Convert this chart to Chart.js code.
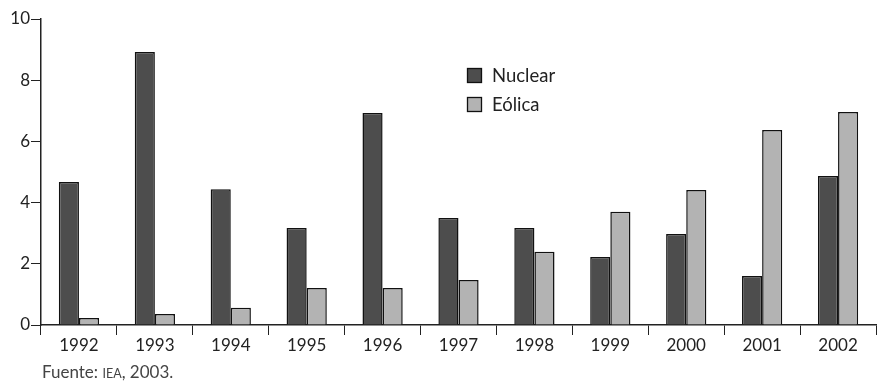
<!DOCTYPE html>
<html>
<head>
<meta charset="utf-8">
<script src="https://cdn.jsdelivr.net/npm/chart.js@4.4.0/dist/chart.umd.min.js"></script>
<style>
  html, body { margin: 0; padding: 0; background: #fff; }
  #wrap { position: relative; width: 878px; height: 382px; }
  #source { position: absolute; left: 42px; top: 361px; font: 17px Lato, sans-serif; color: #444; }
  #source .sc { font-size: 12.5px; }
</style>
</head>
<body>
<div id="wrap">
  <canvas id="chart" width="878" height="382"></canvas>
  <div id="source">Fuente: <span class="sc">IEA</span>, 2003.</div>
</div>
<script>
const years = ['1992', '1993', '1994', '1995', '1996', '1997', '1998', '1999', '2000', '2001', '2002'];
const nuclear = [4.67, 8.92, 4.44, 3.17, 6.93, 3.5, 3.17, 2.22, 2.97, 1.6, 4.87];
const eolica = [0.23, 0.36, 0.56, 1.21, 1.21, 1.47, 2.39, 3.7, 4.41, 6.37, 6.96];
const yTicks = [0, 2, 4, 6, 8, 10];

const font = { family: 'Lato, sans-serif', size: 17 };

// legend drawn inside the plot, near the middle
const boxLegend = {
    id: 'boxLegend',
    afterDraw(chart) {
        const c = chart.ctx;
        c.save();
        chart.data.datasets.forEach((ds, i) => {
            const x = 467, y = 68 + i * 29;
            c.fillStyle = ds.backgroundColor;
            c.fillRect(x, y, 15, 15);
            c.strokeStyle = '#111';
            c.lineWidth = 1.3;
            c.strokeRect(x + 0.5, y + 0.5, 14, 14);
            c.fillStyle = '#222';
            c.font = '18.5px Lato, sans-serif';
            c.textBaseline = 'middle';
            c.fillText(ds.label, x + 25, y + 8);
        });
        c.restore();
    }
};

new Chart(document.getElementById('chart'), {
    type: 'bar',
    data: {
        labels: years,
        datasets: [
            { label: 'Nuclear', data: nuclear, backgroundColor: '#4d4d4d', borderColor: '#111', borderWidth: 1.5 },
            { label: 'Eólica', data: eolica, backgroundColor: '#b3b3b3', borderColor: '#111', borderWidth: 1.5 }
        ]
    },
    options: {
        responsive: false,
        animation: false,
        layout: { padding: { top: 19, right: 2, bottom: 0, left: 0 } },
        datasets: { bar: { categoryPercentage: 0.53, barPercentage: 1 } },
        plugins: { legend: { display: false }, tooltip: { enabled: false } },
        scales: {
            x: {
                grid: { drawOnChartArea: false, drawTicks: true, tickLength: 10, color: '#222', offset: true },
                border: { display: true, color: '#222', width: 1.5 },
                ticks: { color: '#222', font: font, padding: 0 },
                afterFit: s => { s.height = 57; }
            },
            y: {
                min: 0,
                max: 10,
                afterBuildTicks: s => { s.ticks = yTicks.map(v => ({ value: v })); },
                grid: { drawOnChartArea: false, drawTicks: true, tickLength: 10, color: '#222' },
                border: { display: true, color: '#222', width: 1.5 },
                ticks: { color: '#222', font: font, padding: 1 },
                afterFit: s => { s.width = 41; }
            }
        }
    },
    plugins: [boxLegend]
});
</script>
</body>
</html>
